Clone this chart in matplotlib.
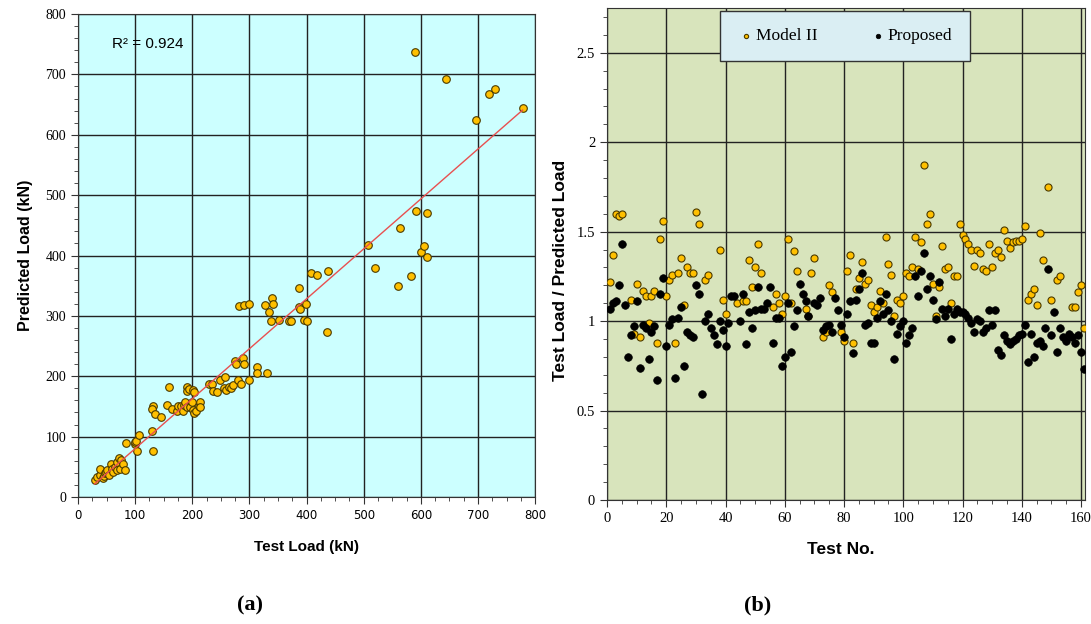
import numpy as np
import matplotlib
matplotlib.use("Agg")
import matplotlib.pyplot as plt
from matplotlib.ticker import MultipleLocator, FormatStrFormatter

SERIF = "Liberation Serif"
SANS = "Liberation Sans"

# ---- (a) test load vs predicted load (kN)
test_load = [29, 34, 38, 39, 43, 45, 47, 49, 51, 54, 58, 59, 61, 64, 68, 68, 71, 74, 75, 79, 82,
             84, 99, 100, 102, 104, 106,
             130, 131, 130, 132, 135, 145,
             156, 160, 165, 173, 175, 180, 184, 186, 188, 191, 191, 191, 194, 196, 200, 201, 201,
             203, 203, 206, 212, 213, 213,
             229, 234, 237, 243, 248, 255, 257, 259, 264, 267, 271, 274, 276, 280, 285, 288, 290,
             300, 314, 314, 330,
             282, 290, 300, 327, 335, 338, 339, 342, 352, 370, 373, 387, 387, 388, 395, 399, 400,
             408, 419, 436, 438,
             507, 520, 560, 564, 582, 591, 600, 605, 610, 610, 590, 644, 697, 720, 730, 778]
pred_load = [28, 33, 36, 46, 32, 34, 39, 42, 44, 37, 55, 46, 41, 50, 58, 44, 65, 47, 61, 55, 45,
             89, 88, 91, 93, 76, 103,
             110, 150, 145, 77, 138, 133,
             153, 182, 146, 143, 151, 150, 143, 153, 157, 149, 183, 176, 179, 149, 157, 144, 178,
             139, 174, 143, 151, 157, 149,
             187, 187, 175, 174, 193, 181, 198, 177, 182, 180, 185, 225, 220, 193, 187, 230, 220,
             193, 215, 205, 205,
             317, 318, 320, 318, 306, 291, 330, 320, 293, 292, 292, 346, 314, 311, 294, 320, 292,
             371, 368, 273, 375,
             417, 380, 350, 445, 366, 474, 406, 416, 397, 470, 737, 693, 624, 667, 676, 644]
r2_text = "R\u00b2 = 0.924"

# ---- (b) test load / predicted load per test
model2_no = [1, 2, 3, 4, 5, 8, 9, 10, 11, 12, 13, 14, 15, 16, 17, 18, 19, 20, 21, 22, 23, 24, 25,
             26, 27, 28, 29, 30, 31, 33, 34, 38, 39, 40,
             44, 46, 47, 48, 49, 50, 51, 52, 56, 57, 58, 59, 60, 61, 62, 63, 64, 67, 68, 69, 70,
             73, 74, 75, 76, 79, 80, 81, 82,
             83, 84, 85, 86, 87, 88, 89, 90, 91, 92, 93, 94, 95, 96, 97, 98, 99, 100, 101, 102,
             103, 104, 105, 106, 107, 108, 109, 110, 111, 112, 113, 114, 115, 116, 117, 118, 119,
             120, 121, 122,
             123, 124, 125, 126, 127, 128, 129, 130, 131, 132, 133, 134, 135, 136, 137, 138, 139,
             140, 141, 142, 143, 144, 145, 146, 147, 149, 150, 152, 153, 157, 158, 159, 160, 161]
model2_ratio = [1.22, 1.37, 1.60, 1.59, 1.60, 1.12, 0.93, 1.21, 0.91, 1.17, 1.14, 0.99, 1.14, 1.17,
                0.88, 1.46, 1.56, 1.14, 1.23, 1.26, 0.88, 1.27, 1.35, 1.09, 1.30, 1.27, 1.27, 1.61,
                1.54, 1.23, 1.26, 1.40, 1.12, 1.04,
                1.10, 1.11, 1.11, 1.34, 1.19, 1.30, 1.43, 1.27, 1.08, 1.15, 1.10, 1.04, 1.14, 1.46,
                1.10, 1.39, 1.28, 1.07, 1.03, 1.27, 1.35, 0.91, 0.94, 1.20, 1.16, 0.94, 0.89, 1.28,
                1.37,
                0.88, 1.18, 1.24, 1.33, 1.21, 1.23, 1.09, 1.05, 1.08, 1.17, 1.10, 1.47, 1.32, 1.26,
                1.03, 1.12, 1.10, 1.14, 1.27, 1.25, 1.30, 1.47, 1.29, 1.44, 1.87, 1.54, 1.60, 1.21,
                1.03, 1.19, 1.42, 1.29, 1.30, 1.10, 1.25, 1.25, 1.54, 1.48, 1.46, 1.43,
                1.40, 1.31, 1.40, 1.38, 1.29, 1.28, 1.43, 1.30, 1.38, 1.40, 1.36, 1.51, 1.45, 1.41,
                1.44, 1.45, 1.45, 1.46, 1.53, 1.12, 1.15, 1.18, 1.09, 1.49, 1.34, 1.75, 1.12, 1.23,
                1.25, 1.08, 1.08, 1.16, 1.20, 0.96]

# proposed model: tests 1-43, 45-68, 70-122, 123-161
prop_no = list(range(1, 44)) + list(range(45, 69)) + list(range(70, 123)) + list(range(123, 162))
prop_ratio = [1.07, 1.10, 1.11, 1.20, 1.43, 1.09, 0.80, 0.92, 0.97, 1.11, 0.74, 0.98, 0.96, 0.79,
              0.94, 0.97, 0.67, 1.15, 1.24, 0.86, 0.98, 1.01, 0.68, 1.02, 1.08, 0.75, 0.94, 0.92,
              0.91, 1.20, 1.15, 0.59, 1.00, 1.04, 0.96, 0.92, 0.87, 1.00, 0.95, 0.86, 0.99, 1.14,
              1.14,
              1.00, 1.15, 0.87, 1.05, 0.96, 1.06, 1.19, 1.07, 1.07, 1.10, 1.19, 0.88, 1.02, 1.02,
              0.75, 0.80, 1.10, 0.83, 0.97, 1.06, 1.21, 1.15, 1.11, 1.03,
              1.10, 1.09, 1.13, 0.95, 0.97, 0.98, 0.94, 1.13, 1.06, 0.98, 0.91, 1.04, 1.11, 0.82,
              1.12, 1.18, 1.27, 0.98, 0.99, 0.88, 0.88, 1.02, 1.11, 1.04, 1.15, 1.06, 1.00, 0.79,
              0.93, 0.97, 1.00, 0.88, 0.92, 0.96, 1.25, 1.14, 1.28, 1.38, 1.18, 1.25, 1.12, 1.01,
              1.22, 1.07, 1.03, 1.07, 0.90, 1.04, 1.07, 1.05, 1.05, 1.04, 1.02,
              0.99, 0.94, 1.01, 1.00, 0.94, 0.96, 1.06, 0.98, 1.06, 0.84, 0.81, 0.92, 0.89, 0.87,
              0.89, 0.90, 0.92, 0.93, 0.98, 0.77, 0.93, 0.80, 0.88, 0.89, 0.86, 0.96, 1.29, 0.92,
              1.05, 0.83, 0.96, 0.91, 0.89, 0.93, 0.91, 0.88, 0.92, 0.83, 0.73]

fig = plt.figure(figsize=(10.91, 6.24), dpi=100)

# ---------------- (a)
ax1 = fig.add_axes([0.0715, 0.2035, 0.419, 0.774])
ax1.set_facecolor("#CCFFFF")
ax1.scatter(test_load, pred_load, s=30, c="#FFC000", edgecolors="#4a3a00", linewidths=0.8, zorder=3)
k, b0 = np.polyfit(test_load, pred_load, 1)
xl = np.array([min(test_load), max(test_load)])
ax1.plot(xl, k * xl + b0, color="#E85050", lw=1.0, zorder=4)
ax1.set_xlim(0, 800)
ax1.set_ylim(0, 800)
ax1.xaxis.set_major_locator(MultipleLocator(100))
ax1.xaxis.set_minor_locator(MultipleLocator(25))
ax1.yaxis.set_major_locator(MultipleLocator(100))
ax1.yaxis.set_minor_locator(MultipleLocator(20))
ax1.grid(True, which="major", color="#222222", lw=1.0, zorder=1)
ax1.set_axisbelow(True)
ax1.tick_params(which="both", direction="out", color="#333333")
ax1.tick_params(which="major", length=5)
ax1.tick_params(which="minor", length=3)
for t in ax1.get_yticklabels():
    t.set_fontfamily(SERIF)
    t.set_fontsize(10)
for t in ax1.get_xticklabels():
    t.set_fontfamily("DejaVu Sans")
    t.set_fontsize(8.5)
ax1.text(60, 750, r2_text, fontsize=11, family=SANS, va="center")
ax1.set_ylabel("Predicted Load (kN)", fontsize=11.5, fontweight="bold", family=SANS)
ax1.yaxis.set_label_coords(-0.099, 0.5)
ax1.set_xlabel("Test Load (kN)", fontsize=11, fontweight="bold", family=SANS)
ax1.xaxis.set_label_coords(0.499, -0.088)
for sp in ax1.spines.values():
    sp.set_color("#333333")

# ---------------- (b)
ax2 = fig.add_axes([0.5564, 0.1987, 0.438, 0.7885])
ax2.set_facecolor("#D8E4BC")
ax2.scatter(model2_no, model2_ratio, s=26, c="#FFC000", edgecolors="#4a3a00", linewidths=0.8,
            zorder=3, label="Model II")
ax2.scatter(prop_no, prop_ratio, s=30, c="black", edgecolors="black", linewidths=0.5,
            zorder=4, label="Proposed")
ax2.set_xlim(0, 161.3)
ax2.set_ylim(0, 2.75)
ax2.xaxis.set_major_locator(MultipleLocator(20))
ax2.xaxis.set_minor_locator(MultipleLocator(5))
ax2.yaxis.set_major_locator(MultipleLocator(0.5))
ax2.yaxis.set_minor_locator(MultipleLocator(0.1))
ax2.yaxis.set_major_formatter(FormatStrFormatter("%g"))
ax2.grid(True, which="major", color="#222222", lw=1.0, zorder=1)
ax2.set_axisbelow(True)
ax2.tick_params(which="both", direction="out", color="#333333")
ax2.tick_params(which="major", length=5)
ax2.tick_params(which="minor", length=3)
for t in ax2.get_xticklabels() + ax2.get_yticklabels():
    t.set_fontfamily(SERIF)
    t.set_fontsize(10.5)
ax2.set_ylabel("Test Load / Predicted Load", fontsize=12.5, fontweight="bold", family=SANS)
ax2.yaxis.set_label_coords(-0.082, 0.467)
ax2.set_xlabel("Test No.", fontsize=12.5, fontweight="bold", family=SANS)
ax2.xaxis.set_label_coords(0.49, -0.085)
for sp in ax2.spines.values():
    sp.set_color("#333333")
leg = ax2.legend(loc="center", bbox_to_anchor=(0.498, 0.943), ncol=2, frameon=True,
                 fancybox=False, prop={"family": SERIF, "size": 12.5}, markerscale=0.6,
                 handletextpad=0.05, columnspacing=3.0, borderpad=1.0, handlelength=1.0,
                 borderaxespad=0)
leg.get_frame().set_facecolor("#DAEEF3")
leg.get_frame().set_edgecolor("#333333")
leg.get_frame().set_alpha(1)
leg.get_frame().set_linewidth(1.0)
leg.set_zorder(5)

fig.text(0.229, 0.030, "(a)", fontsize=16, fontweight="bold", family=SERIF, ha="center", va="center")
fig.text(0.694, 0.030, "(b)", fontsize=16, fontweight="bold", family=SERIF, ha="center", va="center")

fig.savefig("out.png", dpi=100)
